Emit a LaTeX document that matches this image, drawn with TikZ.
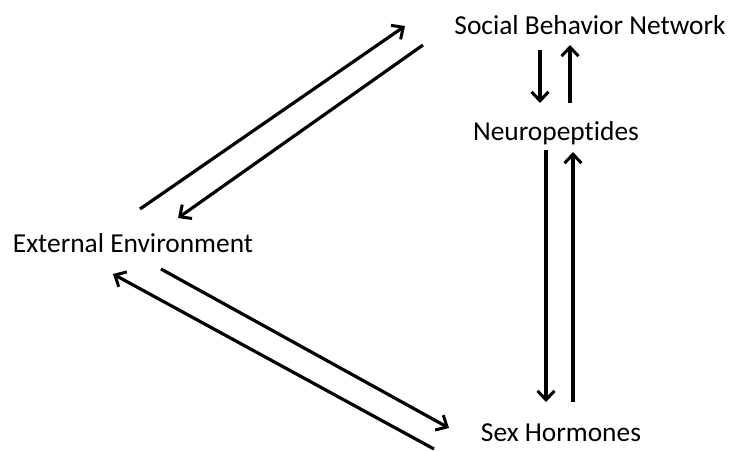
\documentclass[tikz,border=0pt]{standalone}
\usepackage{fontspec}
\setmainfont{Carlito}[Ligatures=NoCommon]
\usetikzlibrary{arrows.meta}

\begin{document}
\begin{tikzpicture}
	[x=1pt,y=-1pt,
		link/.style={-{Straight Barb[length=9pt,width=17pt,line width=3pt]},line width=3.2pt},
		label node/.style={anchor=base,inner sep=0pt,font=\fontsize{27.4}{32}\selectfont}]

    \useasboundingbox (0,0) rectangle (730,450);

    \node[label node] (SBN) at (590,34) {Social Behavior Network};
    \node[label node] (NP)  at (556,140) {Neuropeptides};
    \node[label node] (EE)  at (133,252) {External Environment};
    \node[label node] (SH)  at (561,441) {Sex Hormones};

    % arrow ends
    \coordinate (ee1) at (140,209);  \coordinate (sbn1) at (405,26);
    \coordinate (sbn2) at (423,45);  \coordinate (ee2) at (178,218);
    \coordinate (ee3) at (161,269);  \coordinate (sh3) at (449,428);
    \coordinate (sh4) at (434,449);  \coordinate (ee4) at (113,274);
    \coordinate (sbn5) at (540,50);  \coordinate (np5) at (540,103);
    \coordinate (np6) at (570,103);  \coordinate (sbn6) at (570,45);
    \coordinate (np7) at (546,150);  \coordinate (sh7) at (546,402);
    \coordinate (sh8) at (573,402);  \coordinate (np8) at (573,152);

	\draw[link] (ee1) -- (sbn1);
	\draw[link] (sbn2) -- (ee2);
	\draw[link] (ee3) -- (sh3);
	\draw[link] (sh4) -- (ee4);
	\draw[link] (sbn5) -- (np5);
	\draw[link] (np6) -- (sbn6);
	\draw[link] (np7) -- (sh7);
	\draw[link] (sh8) -- (np8);

\end{tikzpicture}
\end{document}
